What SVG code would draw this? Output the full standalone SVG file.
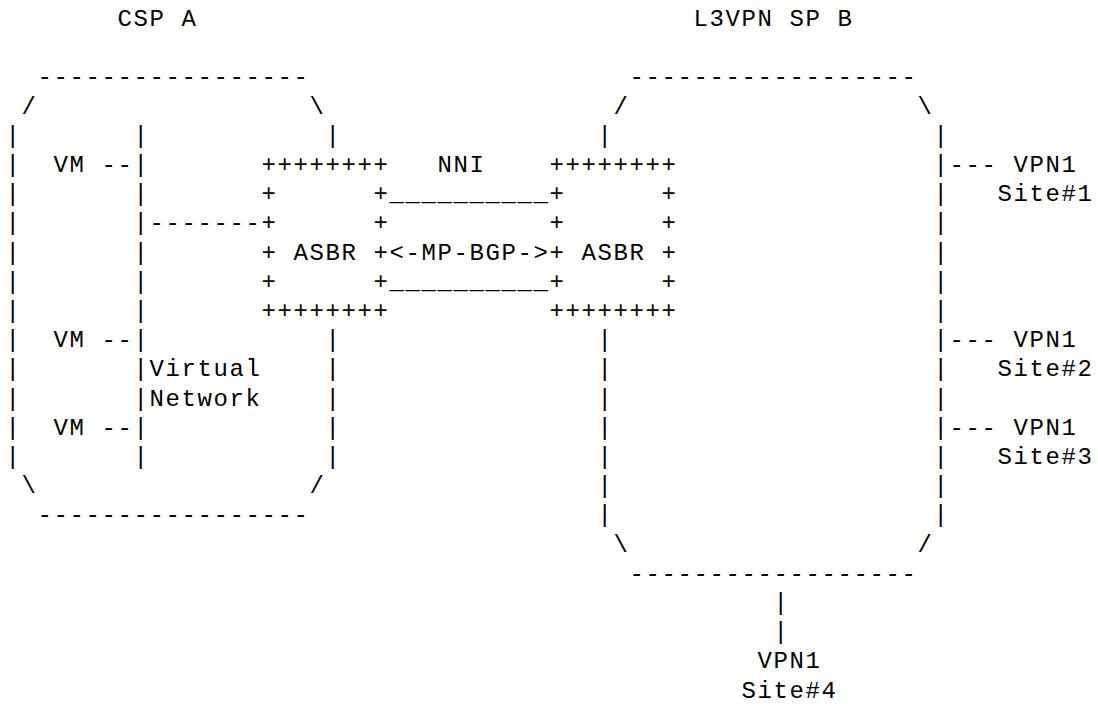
<svg xmlns="http://www.w3.org/2000/svg" width="1098" height="706" viewBox="0 0 1098 706">
<style>
text { font-family: "Liberation Mono", "DejaVu Sans Mono", monospace; font-size: 24px; letter-spacing: 1.6px; white-space: pre; fill: #000; }
</style>
<rect width="1098" height="706" fill="#fff"/>
<g id="csp-a">
<text x="117.5" y="25.9">CSP A</text>
<text x="37.5" y="84.3">-----------------</text>
<text x="21.5" y="113.5">/</text>
<text x="309.5" y="113.5">\</text>
<text x="5.5 5.5 5.5 5.5 5.5 5.5 5.5 5.5 5.5 5.5 5.5 5.5" y="142.7 171.9 201.1 230.3 259.5 288.7 317.9 347.1 376.3 405.5 434.7 463.9">||||||||||||</text>
<text x="325.5" y="142.7">|</text>
<text x="325.5 325.5 325.5 325.5 325.5" y="347.1 376.3 405.5 434.7 463.9">|||||</text>
<text x="21.5" y="493.1">\</text>
<text x="309.5" y="493.1">/</text>
<text x="37.5" y="522.3">-----------------</text>
</g>
<g id="virtual-network">
<text x="133.5 133.5 133.5 133.5 133.5 133.5 133.5 133.5 133.5 133.5 133.5 133.5" y="142.7 171.9 201.1 230.3 259.5 288.7 317.9 347.1 376.3 405.5 434.7 463.9">||||||||||||</text>
<text x="149.5" y="376.3">Virtual</text>
<text x="149.5" y="405.5">Network</text>
</g>
<g id="vm-1"><text x="53.5" y="171.9">VM</text></g>
<g id="vm-2"><text x="53.5" y="347.1">VM</text></g>
<g id="vm-3"><text x="53.5" y="434.7">VM</text></g>
<g id="asbr-a">
<text x="261.5" y="171.9">++++++++</text>
<text x="261.5" y="201.1">+      +</text>
<text x="261.5" y="230.3">+      +</text>
<text x="261.5" y="259.5">+ ASBR +</text>
<text x="261.5" y="288.7">+      +</text>
<text x="261.5" y="317.9">++++++++</text>
</g>
<g id="asbr-b">
<text x="549.5" y="171.9">++++++++</text>
<text x="549.5" y="201.1">+      +</text>
<text x="549.5" y="230.3">+      +</text>
<text x="549.5" y="259.5">+ ASBR +</text>
<text x="549.5" y="288.7">+      +</text>
<text x="549.5" y="317.9">++++++++</text>
</g>
<g id="l3vpn-sp-b">
<text x="693.5" y="25.9">L3VPN SP B</text>
<text x="629.5" y="84.3">------------------</text>
<text x="613.5" y="113.5">/</text>
<text x="917.5" y="113.5">\</text>
<text x="597.5" y="142.7">|</text>
<text x="597.5 597.5 597.5 597.5 597.5 597.5 597.5" y="347.1 376.3 405.5 434.7 463.9 493.1 522.3">|||||||</text>
<text x="933.5 933.5 933.5 933.5 933.5 933.5 933.5 933.5 933.5 933.5 933.5 933.5 933.5 933.5" y="142.7 171.9 201.1 230.3 259.5 288.7 317.9 347.1 376.3 405.5 434.7 463.9 493.1 522.3">||||||||||||||</text>
<text x="613.5" y="551.5">\</text>
<text x="917.5" y="551.5">/</text>
<text x="629.5" y="580.7">------------------</text>
</g>
<g id="vpn1-site1"><text x="1013.5" y="171.9">VPN1</text><text x="997.5" y="201.1">Site#1</text></g>
<g id="vpn1-site2"><text x="1013.5" y="347.1">VPN1</text><text x="997.5" y="376.3">Site#2</text></g>
<g id="vpn1-site3"><text x="1013.5" y="434.7">VPN1</text><text x="997.5" y="463.9">Site#3</text></g>
<g id="vpn1-site4"><text x="757.5" y="668.3">VPN1</text><text x="741.5" y="697.5">Site#4</text></g>
<g id="connectors">
<text x="101.5" y="171.9">--</text>
<text x="101.5" y="347.1">--</text>
<text x="101.5" y="434.7">--</text>
<text x="149.5" y="230.3">-------</text>
<text x="437.5" y="171.9">NNI</text>
<text x="389.5" y="201.1">__________</text>
<text x="389.5" y="259.5">&lt;-MP-BGP-&gt;</text>
<text x="389.5" y="288.7">__________</text>
<text x="949.5" y="171.9">---</text>
<text x="949.5" y="347.1">---</text>
<text x="949.5" y="434.7">---</text>
<text x="773.5 773.5" y="609.9 639.1">||</text>
</g>
</svg>
